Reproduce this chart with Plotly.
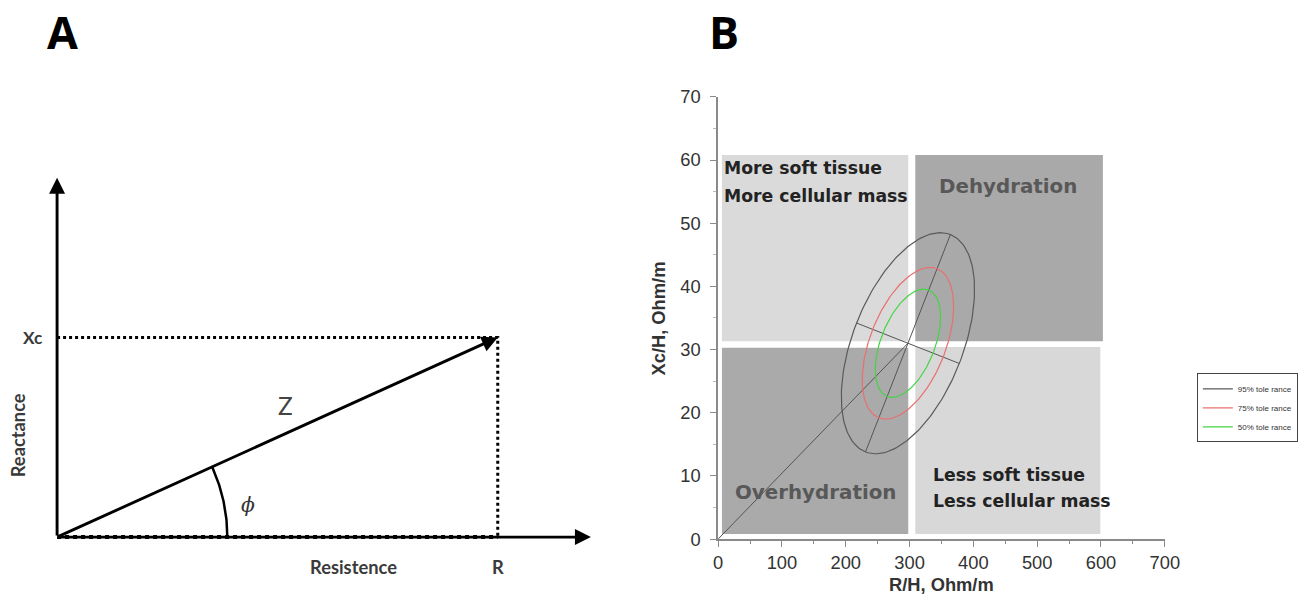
import numpy as np
import plotly.graph_objects as go

W, H = 1314, 601

# ---------------- Panel A (schematic, arbitrary units) ----------------
R_val = 440          # resistance component
Xc_val = 200         # reactance component
x_axis_len = 533
y_axis_len = 360
phi_radius = 170

# ---------------- Panel B data ----------------
x_ticks = [0, 100, 200, 300, 400, 500, 600, 700]
y_ticks = [0, 10, 20, 30, 40, 50, 60, 70]

quad_names = ["ul", "ur", "ll", "lr"]
quad_x0 = [6, 309, 6, 309]
quad_x1 = [298, 603, 298, 599]
quad_y0 = [31.3, 31.3, 0.8, 0.8]
quad_y1 = [60.8, 60.8, 30.3, 30.4]
quad_colors = ["#dadada", "#a9a9a9", "#aaaaaa", "#d8d8d8"]

ell_center = (297.5, 31.0)
ell_major = (66.5, 17.2)    # half major axis vector (data units)
ell_minor = (80.5, -3.2)    # half minor axis vector (data units)
tol_names = ["95% tole rance", "75% tole rance", "50% tole rance"]
tol_scale = [1.0, 0.686, 0.49]
tol_colors = ["#5a5a5a", "#e8706f", "#45d445"]

# ---- placement helpers: target picture pixel -> figure pixel (measured capture transform)
SX, OX = 1292 / 1314, 5
SY, OY = 581 / 601, 10


def fx(X):
    return (X - OX) / SX


def fy(Y):
    return (Y - OY) / SY


def px(X):
    return fx(X) / W


def py(Y):
    return 1 - fy(Y) / H


fs = 1.0 / SX  # font compensation

fig = go.Figure()

# ---------- axes ----------
A_dom = 620
fig.update_layout(
    xaxis=dict(domain=[0, A_dom / W], range=[OX - 57, OX + SX * A_dom - 57],
               visible=False, fixedrange=True),
    yaxis=dict(domain=[0, 1], range=[537 - (OY + SY * H), 537 - OY],
               visible=False, fixedrange=True),
    xaxis2=dict(domain=[px(717), px(1163)], range=[0, 700], anchor="y2"),
    yaxis2=dict(domain=[py(539), py(96)], range=[0, 70], anchor="x2"),
)

# ---------- Panel A ----------
fig.add_trace(go.Scatter(x=[0, R_val, R_val], y=[Xc_val, Xc_val, 0], mode="lines",
                         line=dict(color="black", width=3, dash="dot"),
                         showlegend=False, hoverinfo="skip", xaxis="x", yaxis="y"))
fig.add_trace(go.Scatter(x=[0, R_val], y=[0, 0], mode="lines",
                         line=dict(color="black", width=4, dash="dot"),
                         showlegend=False, hoverinfo="skip", xaxis="x", yaxis="y"))
phi = np.arctan2(Xc_val, R_val)
t = np.linspace(0, phi, 40)
fig.add_trace(go.Scatter(x=phi_radius * np.cos(t), y=phi_radius * np.sin(t),
                         mode="lines", line=dict(color="black", width=2.5),
                         showlegend=False, hoverinfo="skip", xaxis="x", yaxis="y"))

arrow_common = dict(xref="x", yref="y", axref="x", ayref="y", text="", showarrow=True,
                    arrowhead=2, arrowsize=1.1, arrowwidth=2.9, arrowcolor="black", standoff=0)
fig.add_annotation(x=x_axis_len, y=0, ax=0, ay=0, **arrow_common)
fig.add_annotation(x=0, y=y_axis_len, ax=0, ay=0, **arrow_common)
fig.add_annotation(x=R_val, y=Xc_val, ax=0, ay=0, **arrow_common)

txtA = dict(family="Lato", size=18 * fs, color="#3a3a3a", weight="bold")
cc = dict(xanchor="center", yanchor="middle", showarrow=False)
fig.add_annotation(x=-24, y=Xc_val, xref="x", yref="y", text="Xc",
                   font=dict(family="Lato", size=17 * fs, color="#3a3a3a", weight="bold"), **cc)
fig.add_annotation(x=-39, y=102, xref="x", yref="y", text="Reactance", textangle=-90,
                   font=txtA, **cc)
fig.add_annotation(x=296, y=-30, xref="x", yref="y", text="Resistence", font=txtA, **cc)
fig.add_annotation(x=R_val, y=-30, xref="x", yref="y", text="R", font=txtA, **cc)
fig.add_annotation(x=228, y=132, xref="x", yref="y", text="Z",
                   font=dict(family="Lato", size=24 * fs, color="#444"), **cc)
fig.add_annotation(x=191, y=32, xref="x", yref="y", text="<i>ϕ</i>",
                   font=dict(family="DejaVu Serif", size=20 * fs, color="#333"), **cc)

lab = dict(family="Open Sans", size=44 * fs, color="black", weight="bold")
fig.add_annotation(x=px(62), y=py(31), xref="paper", yref="paper", text="A", font=lab, **cc)
fig.add_annotation(x=px(723), y=py(31), xref="paper", yref="paper", text="B", font=lab, **cc)

# ---------- Panel B ----------
for n, x0, x1, y0, y1, c in zip(quad_names, quad_x0, quad_x1, quad_y0, quad_y1, quad_colors):
    fig.add_shape(type="rect", xref="x2", yref="y2", x0=x0, x1=x1, y0=y0, y1=y1,
                  fillcolor=c, line=dict(width=0), layer="below")

cx, cy = ell_center
fig.add_trace(go.Scatter(x=[0, cx], y=[0, cy], mode="lines", line=dict(color="#555", width=1),
                         showlegend=False, hoverinfo="skip", xaxis="x2", yaxis="y2"))
fig.add_trace(go.Scatter(x=[cx - ell_major[0], cx + ell_major[0]],
                         y=[cy - ell_major[1], cy + ell_major[1]], mode="lines",
                         line=dict(color="#555", width=1), showlegend=False, hoverinfo="skip",
                         xaxis="x2", yaxis="y2"))
fig.add_trace(go.Scatter(x=[cx - ell_minor[0], cx + ell_minor[0]],
                         y=[cy - ell_minor[1], cy + ell_minor[1]], mode="lines",
                         line=dict(color="#555", width=1), showlegend=False, hoverinfo="skip",
                         xaxis="x2", yaxis="y2"))

tt = np.linspace(0, 2 * np.pi, 200)
for name, s, col in zip(tol_names, tol_scale, tol_colors):
    ex = cx + s * (ell_major[0] * np.cos(tt) + ell_minor[0] * np.sin(tt))
    ey = cy + s * (ell_major[1] * np.cos(tt) + ell_minor[1] * np.sin(tt))
    fig.add_trace(go.Scatter(x=ex, y=ey, mode="lines", name=name,
                             line=dict(color=col, width=1.2), xaxis="x2", yaxis="y2"))

qfont = dict(family="DejaVu Sans", size=17 * fs, color="#222", weight="bold")
qfont2 = dict(family="DejaVu Sans", size=19.5 * fs, color="#585858", weight="bold")
lm = dict(xanchor="left", yanchor="middle", showarrow=False)
fig.add_annotation(x=6, y=58.8, xref="x2", yref="y2", text="More soft tissue", font=qfont, **lm)
fig.add_annotation(x=6, y=54.3, xref="x2", yref="y2", text="More cellular mass", font=qfont, **lm)
fig.add_annotation(x=455, y=55.8, xref="x2", yref="y2", text="Dehydration", font=qfont2, **cc)
fig.add_annotation(x=152, y=7.4, xref="x2", yref="y2", text="Overhydration", font=qfont2, **cc)
fig.add_annotation(x=333, y=10.1, xref="x2", yref="y2", text="Less soft tissue", font=qfont, **lm)
fig.add_annotation(x=333, y=6.0, xref="x2", yref="y2", text="Less cellular mass", font=qfont, **lm)

axis_common = dict(showgrid=False, zeroline=False, showline=True, linecolor="#8a8a8a",
                   linewidth=1.5, ticks="outside", ticklen=6, tickcolor="#8a8a8a",
                   tickfont=dict(family="Liberation Sans", size=18 * fs, color="#333"),
                   fixedrange=True)
fig.update_xaxes(tickvals=x_ticks, ticktext=[str(v) for v in x_ticks],
                 minor=dict(ticks="outside", ticklen=3, dtick=50, tickcolor="#8a8a8a"),
                 selector=dict(anchor="y2"), **axis_common)
fig.update_yaxes(tickvals=y_ticks, ticktext=[str(v) for v in y_ticks],
                 minor=dict(ticks="outside", ticklen=3, dtick=5, tickcolor="#bbbbbb"),
                 ticklabelstandoff=6,
                 selector=dict(anchor="x2"), **axis_common)

tfont = dict(family="Liberation Sans", size=18 * fs, color="#333", weight="bold")
fig.add_annotation(x=px(940), y=py(584), xref="paper", yref="paper", text="R/H, Ohm/m",
                   font=tfont, **cc)
fig.add_annotation(x=px(657), y=py(318), xref="paper", yref="paper", text="Xc/H, Ohm/m",
                   textangle=-90, font=tfont, **cc)

fig.update_layout(
    width=W, height=H, margin=dict(l=0, r=0, t=0, b=0),
    paper_bgcolor="white", plot_bgcolor="white",
    showlegend=True,
    legend=dict(x=px(1195), y=py(373), xanchor="left", yanchor="top",
                bordercolor="#444", borderwidth=1, bgcolor="white",
                font=dict(family="Liberation Sans", size=8, color="#333"),
                itemwidth=30, tracegroupgap=0),
)

fig.write_html("out.html", config={"displayModeBar": False},
               post_script="document.documentElement.style.margin='0';"
                           "document.body.style.margin='0';")
